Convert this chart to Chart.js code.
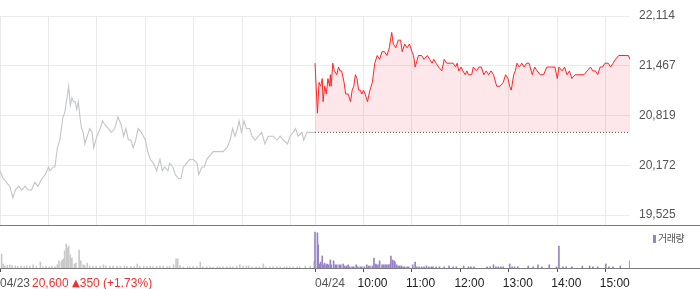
<!DOCTYPE html>
<html lang="ko">
<head>
<meta charset="utf-8">
<title>04/24 intraday</title>
<script src="https://cdn.jsdelivr.net/npm/chart.js@4.4.1/dist/chart.umd.min.js"></script>
<style>
  html, body { margin:0; padding:0; background:#fff; }
  body { width:700px; height:289px; position:relative; overflow:hidden; font-family:"Liberation Sans", Arial, sans-serif; }
  #mainWrap { position:absolute; left:0; top:0; width:700px; height:226px; }
  #volWrap { position:absolute; left:0; top:226px; width:700px; height:63px; }
  #change { position:absolute; left:32px; top:276px; font-size:12px; line-height:14px; color:#f0302f; white-space:nowrap; }
  #change .tri { font-family:"DejaVu Sans", sans-serif; font-size:10px; position:relative; top:-1px; }
  #legend { position:absolute; left:653px; top:232px; font-size:10px; line-height:12px; color:#555; font-family:"Noto Sans CJK KR", sans-serif; white-space:nowrap; letter-spacing:-0.5px; }
  #legend i { display:inline-block; width:3px; height:8px; background:#9782c6; margin-right:2px; vertical-align:-1px; }
</style>
</head>
<body>
<div id="mainWrap"><canvas id="main" width="700" height="226"></canvas></div>
<div id="volWrap"><canvas id="vol" width="700" height="63"></canvas></div>
<div id="change">20,600 <span class="tri">▲</span>350 (+1.73%)</div>
<div id="legend"><i></i>거래량</div>
<script>
// ---------------- data ----------------
const SESSION = 390;               // minutes per session (09:00-15:30)
const prevClose = 20600;           // 04/23 close
const yTickValues = [19525, 20172, 20819, 21467, 22114];
const dateLabels = ['04/23', '04/24'];
const hourLabels = ['10:00', '11:00', '12:00', '13:00', '14:00', '15:00'];

// 04/23 (minutes after 09:00, price)
const prevMinutes = [0,4,8,12,16,19,23,27,31,35,
  39,43,47,52,56,60,62,66,68,71,
  74,76,78,80,83,85,87,89,91,93,
  95,97,99,101,103,105,108,111,114,116,
  120,124,127,130,134,138,142,146,150,153,
  156,159,162,165,168,171,175,180,183,186,
  190,194,198,201,204,208,210,214,217,221,
  224,227,231,235,239,244,246,250,253,256,
  260,264,268,272,276,281,285,288,291,294,
  296,299,302,305,309,312,316,320,324,328,
  332,338,343,347,351,356,359,363,366,369,
  374,376,380,384,390];
const prevPrices = [20100,20000,19950,19900,19750,19850,19900,19850,19900,19850,
  19850,19950,19900,20000,20050,20150,20100,20150,20150,20400,
  20500,20650,20800,20850,21050,21200,20950,21050,21000,21000,
  20900,21000,20800,20650,20600,20450,20550,20650,20600,20400,
  20550,20650,20750,20700,20650,20600,20650,20800,20700,20550,
  20650,20500,20500,20400,20500,20650,20600,20500,20350,20250,
  20200,20100,20250,20100,20150,20100,20200,20150,20050,20000,
  20000,20150,20200,20250,20250,20200,20050,20150,20150,20250,
  20300,20350,20350,20350,20350,20400,20500,20650,20550,20650,
  20750,20600,20750,20650,20650,20550,20500,20550,20600,20450,
  20550,20550,20500,20550,20500,20450,20550,20600,20650,20550,
  20600,20500,20600,20600,20600];

// 04/24 (minutes after 09:00, price)
const todayMinutes = [0,3,5,7,9,10,12,14,16,18,
  19,20,22,24,27,29,31,33,36,38,
  41,44,46,48,50,52,54,56,58,60,
  62,65,68,71,74,77,80,83,86,89,
  92,95,97,100,103,106,108,111,114,117,
  120,122,124,128,132,135,139,142,145,147,
  150,153,157,160,163,168,171,174,176,178,
  181,183,186,188,190,194,196,200,203,206,
  209,212,215,218,221,225,229,233,236,239,
  241,243,246,248,250,253,256,259,262,265,
  269,272,275,279,283,287,290,293,297,300,
  302,306,309,312,315,318,322,324,328,333,
  337,341,344,347,350,353,356,359,363,366,
  369,372,376,380,384,388,390];
const todayPrices = [21500,20850,21250,21200,21300,21000,21200,21100,21300,21200,
  21350,21200,21500,21400,21350,21450,21400,21400,21250,21100,
  21100,21000,21150,21200,21350,21300,21150,21150,21100,21150,
  21100,21000,21150,21250,21500,21600,21550,21650,21650,21600,
  21700,21900,21750,21700,21800,21800,21650,21750,21700,21750,
  21650,21600,21450,21600,21600,21550,21600,21550,21500,21550,
  21500,21450,21400,21550,21500,21500,21500,21450,21500,21400,
  21450,21400,21350,21400,21350,21350,21450,21400,21450,21450,
  21350,21400,21350,21400,21350,21200,21200,21250,21350,21300,
  21200,21150,21350,21400,21500,21450,21500,21450,21500,21500,
  21350,21450,21400,21350,21350,21450,21450,21450,21450,21300,
  21450,21400,21450,21350,21400,21300,21350,21350,21350,21350,
  21400,21450,21400,21400,21350,21450,21450,21500,21500,21450,
  21500,21550,21600,21600,21600,21600,21550];

// volume (thousand shares)
const prevVolMinutes = [2,4,6,9,12,15,19,22,26,30,
  33,37,41,45,50,53,57,61,64,68,
  71,73,76,77,79,80,82,84,85,87,
  89,92,94,98,100,103,105,108,111,115,
  119,124,128,131,136,140,145,149,154,157,
  162,166,170,173,178,182,186,189,194,198,
  202,207,210,215,218,220,223,227,232,235,
  239,244,248,251,256,260,264,269,272,276,
  281,285,288,293,297,301,305,308,312,317,
  321,326,329,334,338,343,347,352,355,359,
  363,368,371,378,384,389];
const prevVolumes = [35,10,5,7,8,6,5,4,5,4,
  5,4,8,4,15,3,4,3,4,3,
  8,18,15,20,23,43,60,50,55,33,
  25,10,12,45,18,8,6,12,5,4,
  5,4,8,5,4,5,4,4,5,4,
  4,3,10,4,5,4,5,3,4,4,
  5,3,4,8,23,23,6,3,3,3,
  3,3,15,3,3,3,2,3,3,3,
  3,3,3,5,8,5,5,5,3,3,
  3,10,3,3,3,3,3,3,3,3,
  3,3,3,5,4,17];
const todayVolMinutes = [0,3,4,6,7,9,10,12,14,15,
  17,19,20,23,25,27,30,32,35,37,
  39,41,43,46,48,51,53,56,58,61,
  64,66,68,71,73,75,76,78,80,83,
  85,87,89,91,93,94,96,98,99,101,
  103,105,107,109,111,114,116,121,124,126,
  129,132,135,138,141,144,146,150,154,160,
  166,171,175,184,190,193,197,213,217,221,
  224,227,230,233,241,244,247,251,264,270,
  276,281,290,299,302,307,311,318,331,340,
  344,350,360,364,369,378,390];
const todayVolumes = [90,88,58,10,15,30,8,12,8,10,
  8,20,8,18,8,8,8,8,10,5,
  5,8,3,3,3,8,3,3,3,3,
  8,5,5,5,25,10,8,8,18,8,
  8,8,8,8,10,30,20,18,15,8,
  5,5,5,3,3,3,3,8,15,3,
  3,3,3,5,3,3,3,3,3,3,
  5,3,3,5,3,3,3,3,3,8,
  3,3,3,3,10,3,3,3,5,3,
  8,3,8,3,55,3,3,3,5,5,
  3,3,10,3,3,5,18];

// ---------------- derived ----------------
const hourMinute = lbl => SESSION + (parseInt(lbl, 10) - 9) * 60;
const prevHourMinutes = hourLabels.map(l => hourMinute(l) - SESSION);
const gridMinutes = [0].concat(prevHourMinutes, [SESSION], hourLabels.map(hourMinute));
const axisLabels = [
  { value: 0, text: dateLabels[0], dx: 0, color: '#555' },
  { value: SESSION, text: dateLabels[1], dx: 0, color: '#555' }
].concat(hourLabels.map(l => ({ value: hourMinute(l), text: l, dx: -6, color: '#222' })));

const fullWidthBorder = {
  id: 'fullWidthBorder',
  afterDraw(chart) {
    const ctx = chart.ctx, y = Math.round(chart.chartArea.bottom) + 0.5;
    ctx.save();
    ctx.strokeStyle = '#7a7a7a';
    ctx.lineWidth = 1;
    ctx.beginPath(); ctx.moveTo(0, y); ctx.lineTo(chart.width, y); ctx.stroke();
    ctx.restore();
  }
};

const axisLabelPlugin = {
  id: 'axisLabels',
  afterDraw(chart) {
    const s = chart.scales.x, ctx = chart.ctx;
    ctx.save();
    ctx.font = '12px "Liberation Sans", Arial, sans-serif';
    ctx.textAlign = 'left';
    ctx.textBaseline = 'alphabetic';
    axisLabels.forEach(l => {
      ctx.fillStyle = l.color;
      ctx.fillText(l.text, s.getPixelForValue(l.value) + l.dx, 61);
    });
    ctx.restore();
  }
};

new Chart(document.getElementById('main'), {
  type: 'line',
  data: {
    datasets: [
      { label: '기준가', data: [{ x: SESSION, y: prevClose }, { x: 2 * SESSION, y: prevClose }],
        borderColor: '#555', borderWidth: 1, borderDash: [1, 2], pointRadius: 0, fill: false, order: 0 },
      { label: '04/24', data: todayMinutes.map((m, i) => ({ x: SESSION + m, y: todayPrices[i] })),
        borderColor: '#ff2424', borderWidth: 1, pointRadius: 0, fill: { value: prevClose },
        backgroundColor: 'rgba(248,70,90,0.13)', order: 1 },
      { label: '04/23', data: prevMinutes.map((m, i) => ({ x: m, y: prevPrices[i] })),
        borderColor: '#c2c5ca', borderWidth: 1.1, pointRadius: 0, fill: false, order: 2 }
    ]
  },
  options: {
    responsive: false, animation: false, events: [],
    layout: { padding: { top: 16, left: 0, right: 0, bottom: 0 } },
    plugins: { legend: { display: false }, tooltip: { enabled: false } },
    elements: { line: { tension: 0 } },
    scales: {
      x: { type: 'linear', min: 0, max: 2 * SESSION, offset: false,
        afterBuildTicks: s => { s.ticks = gridMinutes.map(v => ({ value: v })); },
        ticks: { display: false },
        grid: { color: '#ebebeb', drawTicks: false },
        border: { display: false },
        afterFit: s => { s.height = 1; s.paddingLeft = 0; s.paddingRight = 0; } },
      y: { position: 'right', min: 19395, max: 22114,
        afterBuildTicks: s => { s.ticks = yTickValues.map(v => ({ value: v })); },
        ticks: { color: '#555', padding: 9, font: { family: '"Liberation Sans", Arial, sans-serif', size: 12 },
          callback: v => Number(v).toLocaleString('en-US') },
        grid: { color: '#ebebeb', drawTicks: false },
        border: { display: false },
        afterFit: s => { s.width = 70; s.paddingTop = 0; s.paddingBottom = 0; } }
    }
  },
  plugins: [fullWidthBorder]
});

new Chart(document.getElementById('vol'), {
  type: 'bar',
  data: {
    datasets: [
      { label: '거래량', data: todayVolMinutes.map((m, i) => ({ x: SESSION + m, y: todayVolumes[i] })),
        backgroundColor: '#9782c6', barThickness: 1, grouped: false },
      { label: '04/23 거래량', data: prevVolMinutes.map((m, i) => ({ x: m, y: prevVolumes[i] })),
        backgroundColor: '#c9c9c9', barThickness: 1, grouped: false }
    ]
  },
  options: {
    responsive: false, animation: false, events: [],
    layout: { padding: { top: 2, left: 0, right: 70, bottom: 0 } },
    plugins: { legend: { display: false }, tooltip: { enabled: false } },
    scales: {
      x: { type: 'linear', min: 0, max: 2 * SESSION, offset: false,
        afterBuildTicks: s => { s.ticks = axisLabels.map(l => ({ value: l.value })); },
        ticks: { display: false },
        grid: { display: true, drawOnChartArea: false, drawTicks: true, tickLength: 4, color: '#555', offset: false },
        border: { display: false },
        afterFit: s => { s.height = 21; s.paddingLeft = 0; s.paddingRight = 0; } },
      y: { display: false, min: 0, max: 100 }
    }
  },
  plugins: [fullWidthBorder, axisLabelPlugin]
});
</script>
</body>
</html>
